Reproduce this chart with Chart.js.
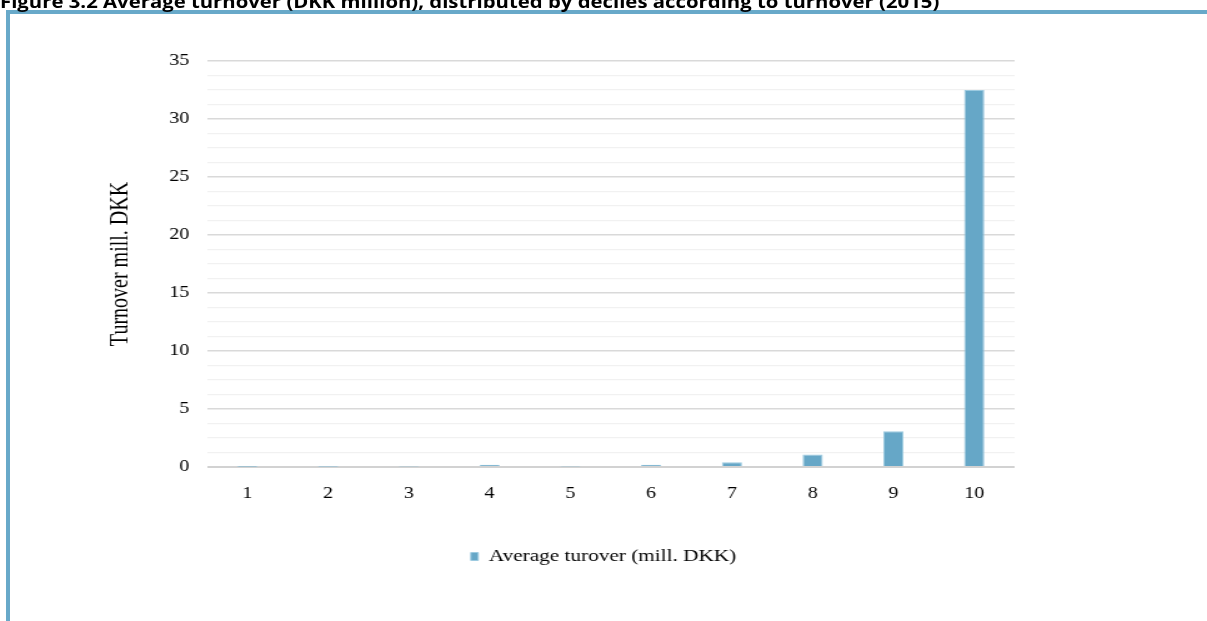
<!DOCTYPE html>
<html>
<head>
<meta charset="utf-8">
<script src="https://cdn.jsdelivr.net/npm/chart.js@4/dist/chart.umd.min.js"></script>
<style>
  html, body { margin: 0; padding: 0; background: #fff; overflow: hidden; }
  #page { position: relative; width: 1207px; height: 621px; overflow: hidden; background: #fff; }
  #frame { position: absolute; left: 6px; top: 10px; right: -10px; bottom: -10px;
           border-top: 4px solid #68a9c9; border-left: 4px solid #68a9c9; }
  #stage { position: absolute; left: 0; top: 0; width: 966px; height: 621px;
           transform: scaleX(1.2495); transform-origin: 0 0; }
  #caption { position: absolute; left: 0; top: -11px; line-height: 18px; white-space: nowrap;
             font: bold 18px "Open Sans", sans-serif; color: #000; transform-origin: 0 0; }
  #chart { position: absolute; left: 0; top: 0; }
</style>
</head>
<body>
<div id="page">
  <div id="frame"></div>
  <div id="stage">
    <div id="caption">Figure 3.2 Average turnover (DKK million), distributed by deciles according to turnover (2015)</div>
    <canvas id="chart" width="966" height="621"></canvas>
  </div>
</div>
<script>
// Turnover deciles and the average turnover in each (mill. DKK)
const deciles = ['1', '2', '3', '4', '5', '6', '7', '8', '9', '10'];
const avgTurnover = [0.02, 0.03, 0.05, 0.2, 0.05, 0.2, 0.42, 1.07, 3.08, 32.5];

// Value axis: labelled every 5, light minor lines every 1.25
const yMin = 0;
const yMax = 35;
const yLabelStep = 5;
const yGridStep = 1.25;

const seriesName = 'Average turover (mill. DKK)';
const yAxisTitle = 'Turnover mill. DKK';

// Fit the caption to its line width
const caption = document.getElementById('caption');
caption.style.transform = 'scaleX(' + (752 / caption.offsetWidth) + ')';

const serif = '"Liberation Serif", "Times New Roman", serif';

// Centre the legend on the whole canvas rather than on the padded area
const centerLegend = {
  id: 'centerLegend',
  afterLayout(chart) {
    const lg = chart.legend;
    if (lg) {
      lg.left = 0;
      lg.right = chart.width;
      lg.width = chart.width;
    }
  }
};

new Chart(document.getElementById('chart'), {
  type: 'bar',
  data: {
    labels: deciles,
    datasets: [{
      label: seriesName,
      data: avgTurnover,
      backgroundColor: '#66a7c7',
      borderColor: '#9ccae0',
      borderWidth: 1,
      categoryPercentage: 1,
      barPercentage: 0.25
    }]
  },
  plugins: [centerLegend],
  options: {
    responsive: false,
    animation: false,
    layout: { padding: { left: 79, right: 154, top: 61, bottom: 46 } },
    plugins: {
      tooltip: { enabled: false },
      legend: {
        position: 'bottom',
        labels: {
          boxWidth: 6,
          boxHeight: 8,
          padding: 10,
          color: '#000',
          font: { family: serif, size: 17 }
        }
      }
    },
    scales: {
      x: {
        grid: { display: false, drawTicks: false },
        border: { display: false },
        ticks: { color: '#000', padding: 17, font: { family: serif, size: 16 } },
        afterFit: (scale) => { scale.height = 71; }
      },
      y: {
        min: yMin,
        max: yMax,
        border: { display: false },
        grid: {
          drawTicks: false,
          color: (c) => c.tick.value === 0 ? '#d2d2d2'
                      : (c.tick.value % yLabelStep === 0 ? '#d9d9d9' : '#f1f1f1'),
          lineWidth: (c) => c.tick.value === 0 ? 2
                      : (c.tick.value % yLabelStep === 0 ? 1.5 : 1.3)
        },
        ticks: {
          stepSize: yGridStep,
          autoSkip: false,
          color: '#000',
          padding: 14,
          font: { family: serif, size: 16 },
          callback: (v) => v % yLabelStep === 0 ? String(v) : ''
        },
        title: {
          display: true,
          text: yAxisTitle,
          color: '#000',
          padding: 6,
          font: { family: serif, size: 20 }
        },
        afterFit: (scale) => { scale.width = 86.6; }
      }
    }
  }
});
</script>
</body>
</html>
